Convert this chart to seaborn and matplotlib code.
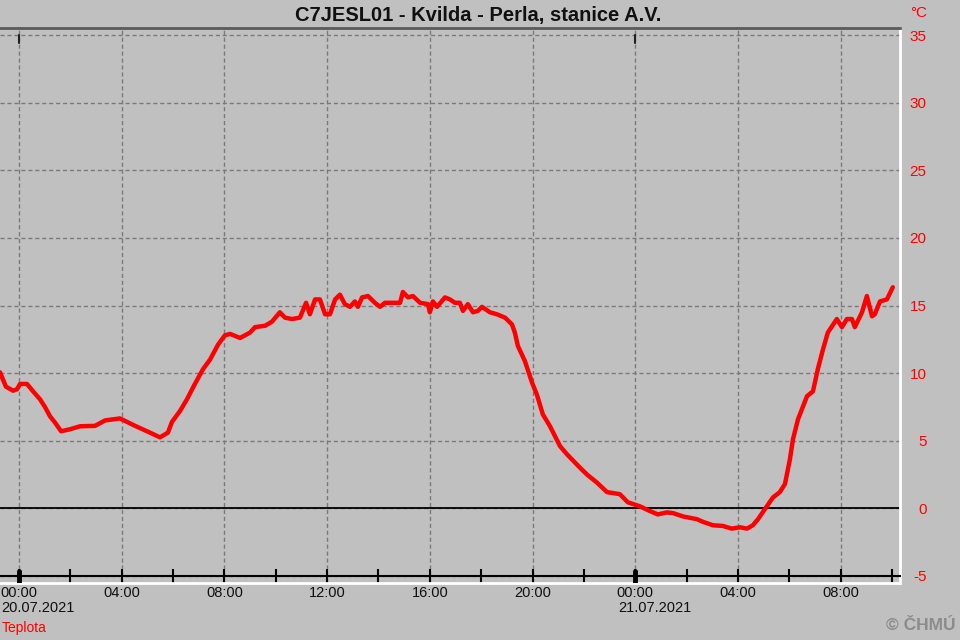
import numpy as np
import pandas as pd
import matplotlib
matplotlib.use("Agg")
import matplotlib.pyplot as plt
import seaborn as sns
from matplotlib.ticker import MultipleLocator, FuncFormatter

# hours since 20.07.2021 00:00 and temperature in deg C
hours = [-0.74, -0.51, -0.23, -0.08, 0.04, 0.31, 0.55, 0.82, 1.01, 1.21, 1.40, 1.64,
         1.99, 2.38, 2.96, 3.35, 3.93, 4.52, 5.10, 5.49, 5.80, 5.96, 6.27, 6.54,
         6.85, 7.17, 7.44, 7.75, 8.02, 8.22, 8.61, 9.00, 9.19, 9.58, 9.85, 10.16,
         10.36, 10.63, 10.94, 11.18, 11.33, 11.53, 11.72, 11.92, 12.11, 12.31, 12.50,
         12.69, 12.89, 13.08, 13.20, 13.36, 13.59, 13.86, 14.06, 14.25, 14.64, 14.84,
         14.95, 15.15, 15.34, 15.62, 15.93, 16.00, 16.12, 16.28, 16.59, 16.78, 16.98,
         17.17, 17.29, 17.48, 17.68, 17.87, 18.03, 18.34, 18.61, 18.93, 19.20, 19.31,
         19.43, 19.70, 19.98, 20.17, 20.40, 20.68, 21.07, 21.34, 21.85, 22.12, 22.51,
         22.90, 23.40, 23.71, 24.18, 24.57, 24.88, 25.23, 25.47, 25.86, 26.40, 26.64,
         27.02, 27.41, 27.76, 28.08, 28.35, 28.58, 28.78, 29.05, 29.36, 29.63, 29.83,
         30.02, 30.14, 30.34, 30.69, 30.92, 31.11, 31.31, 31.50, 31.85, 32.05, 32.24,
         32.44, 32.55, 32.83, 33.02, 33.22, 33.33, 33.53, 33.80, 34.03]
teplota = [10.06, 9.0, 8.7, 8.8, 9.2, 9.2, 8.65, 8.06, 7.5, 6.8, 6.35, 5.7,
           5.85, 6.07, 6.1, 6.5, 6.65, 6.1, 5.6, 5.25, 5.6, 6.4, 7.2, 8.06,
           9.2, 10.3, 11.0, 12.1, 12.8, 12.9, 12.6, 13.0, 13.4, 13.5, 13.8, 14.5,
           14.1, 14.0, 14.1, 15.2, 14.35, 15.45, 15.45, 14.35, 14.35, 15.45, 15.8,
           15.1, 14.9, 15.3, 14.9, 15.6, 15.7, 15.2, 14.9, 15.2, 15.2, 15.2,
           16.0, 15.6, 15.7, 15.2, 15.1, 14.5, 15.3, 14.9, 15.6, 15.45, 15.2,
           15.2, 14.6, 15.1, 14.5, 14.6, 14.9, 14.5, 14.35, 14.1, 13.6, 13.0,
           12.0, 10.9, 9.3, 8.4, 6.95, 6.07, 4.6, 4.0, 3.0, 2.5, 1.9,
           1.2, 1.05, 0.45, 0.15, -0.2, -0.45, -0.3, -0.35, -0.6, -0.8, -1.0,
           -1.25, -1.3, -1.5, -1.4, -1.5, -1.25, -0.8, -0.05, 0.8, 1.2, 1.8,
           3.6, 5.1, 6.6, 8.3, 8.65, 10.3, 11.75, 13.0, 14.0, 13.4, 14.0,
           14.0, 13.4, 14.5, 15.7, 14.2, 14.35, 15.3, 15.45, 16.35]

day_hours = [0, 24]
day_labels = ["20.07.2021", "21.07.2021"]
y_ticks = [-5, 0, 5, 10, 15, 20, 25, 30, 35]

df = pd.DataFrame({"hod": hours, "Teplota": teplota})

bg = "#c0c0c0"
sns.set_style("white")
plt.rcParams["font.family"] = ["Liberation Sans", "DejaVu Sans"]
plt.rcParams["axes.unicode_minus"] = False

fig = plt.figure(figsize=(9.6, 6.4), dpi=100, facecolor=bg)
ax = fig.add_axes([0, 57 / 640, 900 / 960, 555 / 640], facecolor=bg)

# grid
ax.set_xlim(-0.74, 34.31)
ax.set_ylim(-5.52, 35.52)
ax.xaxis.set_major_locator(MultipleLocator(4))
ax.xaxis.set_minor_locator(MultipleLocator(2))
ax.set_yticks(y_ticks)
ax.grid(True, color="#7a7a7a", linestyle=(0, (3, 2)), linewidth=1)

# zero line
ax.axhline(0, color="black", linewidth=1.3, zorder=2)

sns.lineplot(data=df, x="hod", y="Teplota", color="#ff0000", linewidth=3.2,
             estimator=None, sort=False, ax=ax, zorder=3)

# spines: bottom axis line sits at -5
ax.spines["left"].set_visible(False)
ax.spines["top"].set_color("#5a5a5a")
ax.spines["top"].set_linewidth(2)
ax.spines["right"].set_color("white")
ax.spines["right"].set_linewidth(2)
ax.spines["bottom"].set_position(("data", -5))
ax.spines["bottom"].set_color("black")
ax.spines["bottom"].set_linewidth(1.5)
ax.plot([0, 1], [0, 0], transform=ax.transAxes, color="white", lw=2, clip_on=False)

ax.tick_params(axis="x", which="both", bottom=True, top=False, direction="inout",
               length=10, width=1.5, color="black")
ax.tick_params(axis="x", which="major", labelsize=10.5, pad=2, labelcolor="#101010")
ax.xaxis.set_major_formatter(FuncFormatter(lambda v, p: "%02d:00" % (int(round(v)) % 24)))

ax.yaxis.tick_right()
ax.tick_params(axis="y", length=0, labelsize=11, labelcolor="#ff0000", pad=19)
for lab in ax.get_yticklabels():
    lab.set_horizontalalignment("right")

ax.set_xlabel("")
ax.set_ylabel("")

# day marks and dates
for d, lab in zip(day_hours, day_labels):
    ax.axvline(d, ymin=0.0, ymax=0.022, color="black", lw=3.5, zorder=4)
    ax.axvline(d, ymin=0.973, ymax=0.987, color="#202020", lw=1.5, zorder=4)
    ax.text(d - 0.68, -0.033, lab, transform=ax.get_xaxis_transform(),
            ha="left", va="top", fontsize=10.5, color="#101010")

fig.text(478 / 960, 1 - 15 / 640, "C7JESL01 - Kvilda - Perla, stanice A.V.",
         ha="center", va="center", fontsize=14.5, fontweight="bold", color="#101010")
fig.text(927 / 960, 1 - 13 / 640, "°C", ha="right", va="center",
         fontsize=11, color="#ff0000")
fig.text(2 / 960, 1 - 628 / 640, "Teplota", ha="left", va="center",
         fontsize=10, color="#ff0000")
fig.text(955 / 960, 1 - 626 / 640, "© ČHMÚ", ha="right", va="center",
         fontsize=12.5, fontweight="bold", color="#8c8c8c")

fig.savefig("out.png", dpi=100, facecolor=bg)
